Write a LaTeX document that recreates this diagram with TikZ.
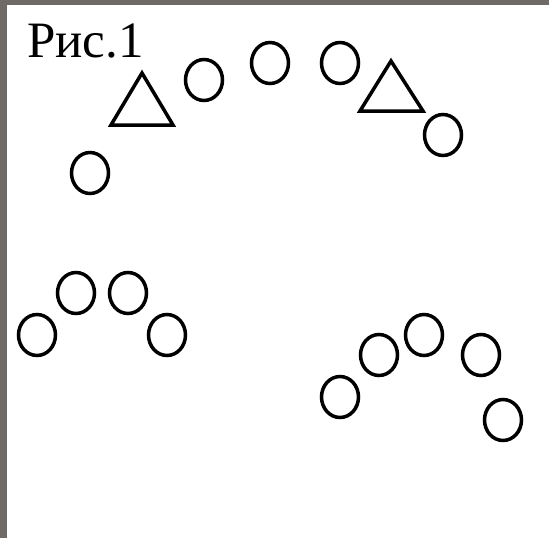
\documentclass[tikz,border=0pt]{standalone}
\usepackage{fontspec}
\setmainfont{Liberation Serif}
\usetikzlibrary{shapes.geometric}
\definecolor{frame}{RGB}{112,106,102}
\begin{document}
\begin{tikzpicture}[x=1pt, y=-1pt,
  ring/.style = {draw, ellipse, line width=3.5pt, inner sep=0pt, minimum width=37pt, minimum height=41pt},
  tri/.style = {draw, line width=3.5pt, line join=miter}]
\useasboundingbox (0,0) rectangle (549,538);
\fill[frame] (0,0) rectangle (549,538);
\fill[white] (7,5) rectangle (549,538);
\node[anchor=base west, inner sep=0pt, font=\fontsize{51}{51}\selectfont] (title) at (27,57) {Рис.1};
% top row
\node[ring] (t1) at (90,173) {};
\draw[tri] (111,125) -- (142,73) -- (173,125) -- cycle;
\node[ring] (t2) at (204,80) {};
\node[ring] (t3) at (270,63) {};
\node[ring] (t4) at (340,63) {};
\draw[tri] (360,111) -- (391,61) -- (423,111) -- cycle;
\node[ring] (t5) at (443,135) {};
% left group
\node[ring] (l1) at (37,335) {};
\node[ring] (l2) at (76,293) {};
\node[ring] (l3) at (128,293) {};
\node[ring] (l4) at (167,335) {};
% right group
\node[ring] (r1) at (340,397) {};
\node[ring] (r2) at (379,355) {};
\node[ring] (r3) at (424,335) {};
\node[ring] (r4) at (481,355) {};
\node[ring] (r5) at (503,420) {};
\end{tikzpicture}
\end{document}
